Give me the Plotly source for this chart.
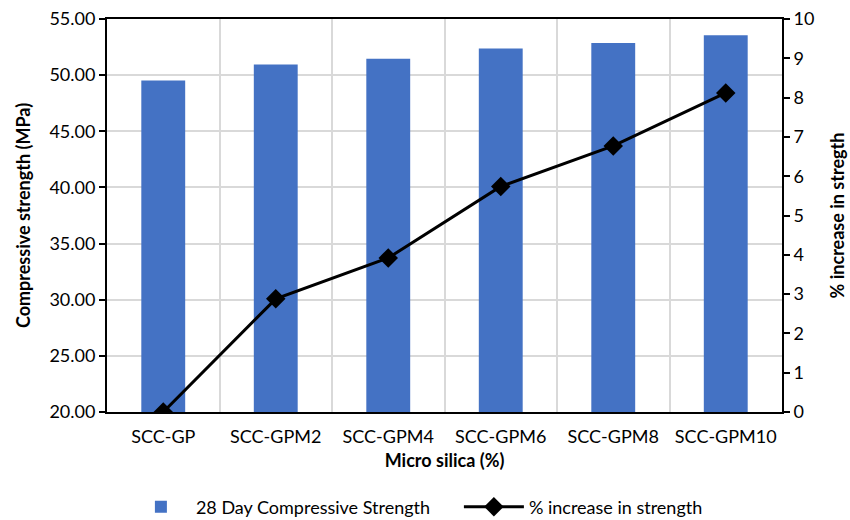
import plotly.graph_objects as go

# Mix designs and measured results
mixes = ["SCC-GP", "SCC-GPM2", "SCC-GPM4", "SCC-GPM6", "SCC-GPM8", "SCC-GPM10"]
strength_28d = [49.53, 50.95, 51.45, 52.38, 52.87, 53.55]   # MPa
pct_increase = [0.00, 2.88, 3.92, 5.74, 6.77, 8.12]         # %

FONT = "Lato"
BLUE = "#4472C4"
GRID = "#D9D9D9"

fig = go.Figure()

fig.add_trace(go.Bar(
    x=mixes, y=strength_28d,
    name="28 Day Compressive Strength",
    marker=dict(color=BLUE, line=dict(width=0)),
    width=0.39,
    yaxis="y",
))

fig.add_trace(go.Scatter(
    x=mixes, y=pct_increase,
    name="% increase in strength",
    mode="lines+markers",
    line=dict(color="black", width=3),
    marker=dict(symbol="diamond", size=15, color="black"),
    yaxis="y2",
))

fig.update_layout(
    width=850, height=520,
    margin=dict(l=107, r=68, t=19, b=108),
    paper_bgcolor="white",
    plot_bgcolor="white",
    font=dict(family=FONT, size=18, color="black"),
    showlegend=True,
    legend=dict(
        orientation="h",
        x=0.028, xanchor="left",
        yref="container",
        y=0.025, yanchor="middle",
        font=dict(size=18),
        itemwidth=60,
        entrywidth=258,
        traceorder="normal",
        bgcolor="rgba(0,0,0,0)",
    ),
    xaxis=dict(
        type="category",
        tickson="boundaries",
        tickangle=0,
        showgrid=True, gridcolor=GRID, gridwidth=2,
        showline=True, linecolor="black", linewidth=2,
        mirror=True,
        ticks="",
        ticklabelstandoff=7,
        title=dict(text="<b>Micro silica (%)</b>", standoff=9, font=dict(size=18)),
        automargin=False,
    ),
    yaxis=dict(
        range=[20, 55], dtick=5, tickformat=".2f",
        showgrid=True, gridcolor=GRID, gridwidth=2,
        showline=True, linecolor="black", linewidth=2,
        ticks="outside", ticklen=6, tickcolor="black", tickwidth=2,
        title=dict(text="<b>Compressive strength (MPa)</b>", standoff=14, font=dict(size=18)),
        zeroline=False,
        automargin=False,
    ),
    yaxis2=dict(
        range=[0, 10], dtick=1,
        overlaying="y", side="right",
        showgrid=False,
        showline=True, linecolor="black", linewidth=2,
        ticks="outside", ticklen=6, tickcolor="black", tickwidth=2,
        title=dict(text="<b>% increase in stregth</b>", standoff=18, font=dict(size=18)),
        zeroline=False,
        automargin=False,
    ),
)

fig.write_html("out.html")
